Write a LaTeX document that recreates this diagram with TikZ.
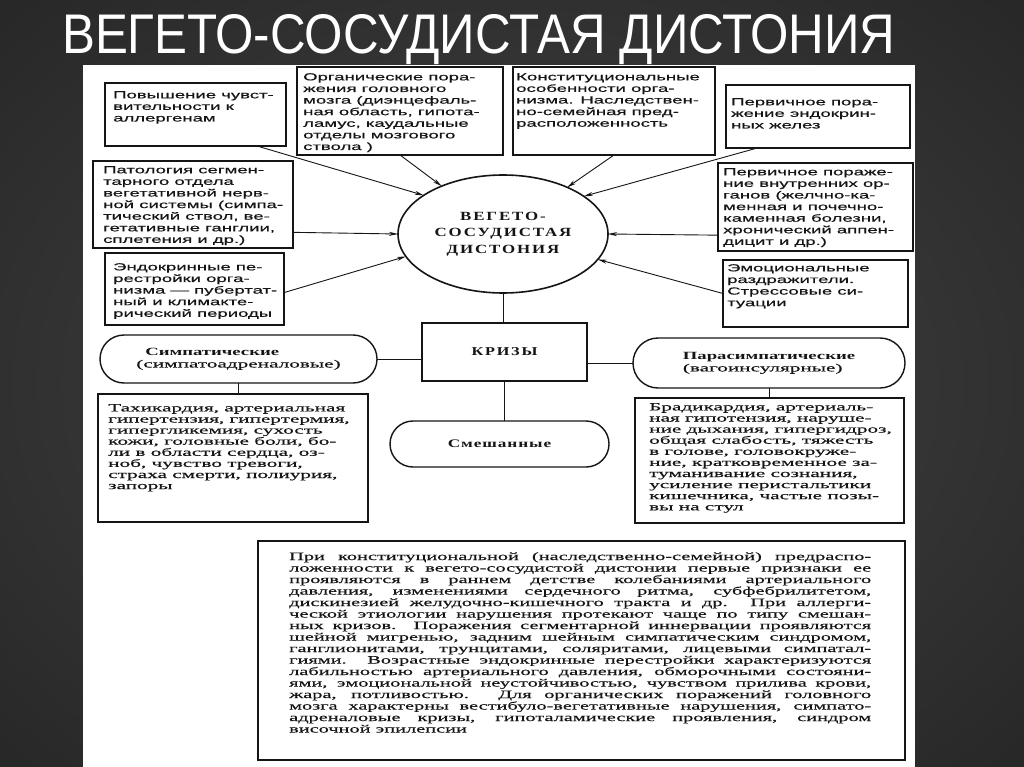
\documentclass[tikz,border=0pt]{standalone}
\usepackage{graphicx}
\usepackage{fontspec}
\setmainfont{Liberation Serif}
\newfontfamily\tsans[FakeStretch=1.8,FakeBold=0.5]{Liberation Sans}
\newfontfamily\lserif[FakeStretch=1.93,FakeBold=0.5]{Liberation Serif}
\newfontfamily\bodyserif[FakeStretch=1.8,FakeBold=0.4]{Liberation Serif}
\newfontfamily\bstad[FakeStretch=1.7]{Liberation Serif}
\newfontfamily\bltr[FakeStretch=1.35,LetterSpace=15]{Liberation Serif}
\newfontfamily\bmix[FakeStretch=1.5,LetterSpace=8]{Liberation Serif}
\newfontfamily\titlefont{Liberation Sans}
\usetikzlibrary{calc,arrows.meta,shapes.geometric,shapes.misc}
\definecolor{ink}{HTML}{151515}
\definecolor{bgin}{HTML}{454545}
\definecolor{bgout}{HTML}{060606}
\newcommand{\jl}[1]{\makebox[582pt][s]{#1}}
\tikzset{
  frame/.style={draw=ink, line width=1.4pt, inner sep=0pt, outer sep=0pt, fill=white},
  btext/.style={anchor=north west, inner sep=0pt, align=left, text=ink},
  topfont/.style={font=\tsans\fontsize{10.3}{11.6}\selectfont},
  lowfont/.style={font=\lserif\fontsize{11}{11.1}\selectfont},
  stad/.style={draw=ink, line width=1.4pt, rounded rectangle, inner sep=0pt, outer sep=0pt, fill=white, align=left, text=ink},
  arr/.style={draw=ink, line width=0.9pt, -{Stealth[length=9pt,width=4pt]}},
  link/.style={draw=ink, line width=1pt},
}
\begin{document}
\begin{tikzpicture}[x=1pt,y=-1pt]
\useasboundingbox (0,0) rectangle (1024,767);
\begin{scope}
  \clip (0,0) rectangle (1024,767);
  \shade[inner color=bgin, outer color=bgout] (-1024,-767) rectangle (2048,1534);
\end{scope}
\node[anchor=north west, inner sep=0pt, text=white] (title) at (62,14)
  {\resizebox{833pt}{39pt}{\titlefont ВЕГЕТО-СОСУДИСТАЯ ДИСТОНИЯ}};
\fill[white] (83,65) rectangle (915,767);

% top boxes
\node[frame, minimum width=181, minimum height=63] (b1) at (195.5,114.5) {};
\node[frame, minimum width=206, minimum height=88] (b2) at (400,111) {};
\node[frame, minimum width=202, minimum height=88] (b3) at (614,111) {};
\node[frame, minimum width=184, minimum height=63] (b4) at (818,116.5) {};
\node[frame, minimum width=200, minimum height=87] (b5) at (193,204.5) {};
\node[frame, minimum width=179, minimum height=72] (b6) at (194.5,289) {};
\node[frame, minimum width=195, minimum height=88] (b7) at (815.5,207) {};
\node[frame, minimum width=185, minimum height=67] (b8) at (815.5,293.5) {};

\node[btext, topfont] (t1) at ($(b1.north west)+(8,8)$) {Повышение чувст-\\вительности к\\аллергенам};
\node[btext, topfont] (t2) at ($(b2.north west)+(6,6)$) {Органические пора-\\жения головного\\мозга (диэнцефаль-\\ная область, гипота-\\ламус, каудальные\\отделы мозгового\\ствола )};
\node[btext, topfont] (t3) at ($(b3.north west)+(3,6)$) {Конституциональные\\особенности орга-\\низма. Наследствен-\\но-семейная пред-\\расположенность};
\node[btext, topfont] (t4) at ($(b4.north west)+(5,13)$) {Первичное пора-\\жение эндокрин-\\ных желез};
\node[btext, topfont] (t5) at ($(b5.north west)+(10,5)$) {Патология сегмен-\\тарного отдела\\вегетативной нерв-\\ной системы (симпа-\\тический ствол, ве-\\гетативные ганглии,\\сплетения и др.)};
\node[btext, topfont] (t6) at ($(b6.north west)+(8,10)$) {Эндокринные пе-\\рестройки орга-\\низма — пубертат-\\ный и климакте-\\рический периоды};
\node[btext, topfont] (t7) at ($(b7.north west)+(5,5)$) {Первичное пораже-\\ние внутренних ор-\\ганов (желчно-ка-\\менная и почечно-\\каменная болезни,\\хронический аппен-\\дицит и др.)};
\node[btext, topfont] (t8) at ($(b8.north west)+(4,4)$) {Эмоциональные\\раздражители.\\Стрессовые си-\\туации};

% centre
\node[ellipse, draw=ink, line width=1.6pt, fill=white, minimum width=210, minimum height=118, inner sep=0pt, outer sep=0pt, align=center, text=ink,
  font=\bltr\bfseries\fontsize{12.5}{16.5}\selectfont] (ell) at (503,234) {ВЕГЕТО-\\СОСУДИСТАЯ\\ДИСТОНИЯ};
\node[frame, minimum width=165, minimum height=58, text=ink, font=\bltr\bfseries\fontsize{12}{13}\selectfont] (kr) at (504.5,352) {КРИЗЫ};

\node[stad, minimum width=277, minimum height=48, font=\fontsize{11}{12}\selectfont] (sym) at (238.5,359)
  {\hspace*{9pt}{\bstad\bfseries Симпатические}\\{\lserif (симпатоадреналовые)}};
\node[stad, minimum width=272, minimum height=50, font=\fontsize{11}{12}\selectfont] (par) at (769,363)
  {{\bstad\bfseries Парасимпатические}\\{\lserif (вагоинсулярные)}};
\node[stad, minimum width=219, minimum height=46, font=\bmix\bfseries\fontsize{11.5}{12}\selectfont] (mix) at (499.5,444) {Смешанные};

\node[frame, minimum width=270, minimum height=128] (tah) at (233,458) {};
\node[frame, minimum width=269, minimum height=125] (brad) at (769.5,460.5) {};
\node[btext, lowfont] (ttah) at ($(tah.north west)+(10,10)$) {Тахикардия, артериальная\\гипертензия, гипертермия,\\гипергликемия, сухость\\кожи, головные боли, бо-\\ли в области сердца, оз-\\ноб, чувство тревоги,\\страха смерти, полиурия,\\запоры};
\node[btext, lowfont] (tbrad) at ($(brad.north west)+(14,5)$) {Брадикардия, артериаль-\\ная гипотензия, наруше-\\ние дыхания, гипергидроз,\\общая слабость, тяжесть\\в голове, головокруже-\\ние, кратковременное за-\\туманивание сознания,\\усиление перистальтики\\кишечника, частые позы-\\вы на стул};

\node[frame, minimum width=647, minimum height=219] (note) at (581.5,650.5) {};
\node[btext, font=\bodyserif\fontsize{11.3}{11.5}\selectfont] (tnote) at ($(note.north west)+(31,11)$) {%
\jl{При конституциональной (наследственно-семейной) предраспо-}\\
\jl{ложенности к вегето-сосудистой дистонии первые признаки ее}\\
\jl{проявляются в раннем детстве колебаниями артериального}\\
\jl{давления, изменениями сердечного ритма, субфебрилитетом,}\\
\jl{дискинезией желудочно-кишечного тракта и др. При аллерги-}\\
\jl{ческой этиологии нарушения протекают чаще по типу смешан-}\\
\jl{ных кризов. Поражения сегментарной иннервации проявляются}\\
\jl{шейной мигренью, задним шейным симпатическим синдромом,}\\
\jl{ганглионитами, трунцитами, соляритами, лицевыми симпатал-}\\
\jl{гиями. Возрастные эндокринные перестройки характеризуются}\\
\jl{лабильностью артериального давления, обморочными состояни-}\\
\jl{ями, эмоциональной неустойчивостью, чувством прилива крови,}\\
\jl{жара, потливостью. Для органических поражений головного}\\
\jl{мозга характерны вестибуло-вегетативные нарушения, симпато-}\\
\jl{адреналовые кризы, гипоталамические проявления, синдром}\\
височной эпилепсии};

% arrows into the centre
\draw[arr] ($(b1.south west)!0.84!(b1.south east)$) -- (ell.154);
\draw[arr] (b2.south) -- (ell.142);
\draw[arr] (b3.south) -- (ell.36);
\draw[arr] ($(b4.south west)!0.17!(b4.south east)$) -- (ell.25);
\draw[arr] ($(b5.north east)!0.82!(b5.south east)$) -- (ell.180);
\draw[arr] ($(b6.north east)!0.55!(b6.south east)$) -- (ell.193);
\draw[arr] ($(b7.north west)!0.82!(b7.south west)$) -- (ell.0);
\draw[arr] (b8.west) -- (ell.345);

% crisis links
\draw[link] (ell.south) -- (ell.south |- kr.north);
\draw[link] (kr.south) -- (kr.south |- mix.north);
\draw[link] (sym.east) -- (sym.east -| kr.west);
\draw[link] (par.west) -- (par.west -| kr.east);
\draw[link] (sym.south) -- (sym.south |- tah.north);
\draw[link] (par.south) -- (par.south |- brad.north);
\end{tikzpicture}
\end{document}
